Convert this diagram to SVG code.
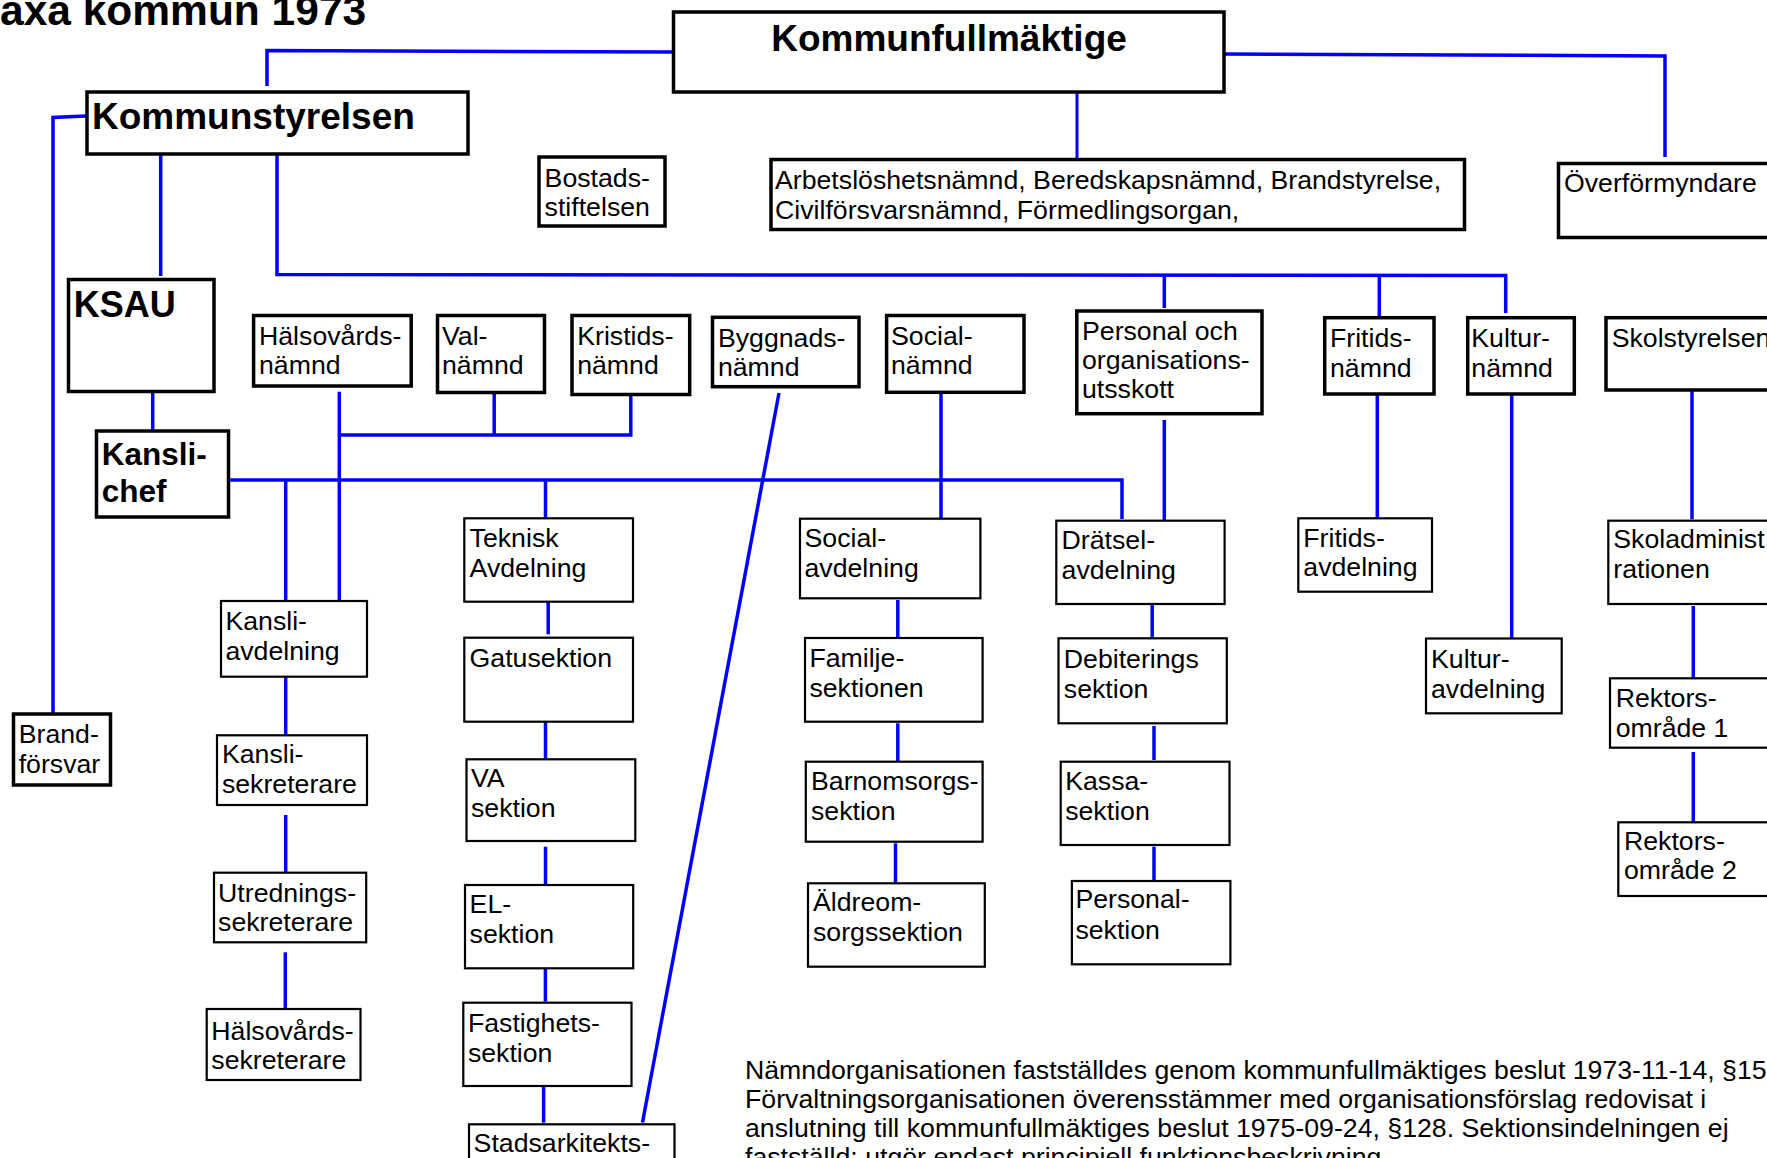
<svg xmlns="http://www.w3.org/2000/svg" width="1767" height="1158" viewBox="0 0 1767 1158">
<style>
.k{fill:#fff;stroke:#000;stroke-width:3.5}
.s{fill:#fff;stroke:#000;stroke-width:2.2}
.c{fill:none;stroke:#0000ff;stroke-width:3.5}
text{font-family:"Liberation Sans",Arial,sans-serif;fill:#000}
.n{font-size:26.7px}
.h{font-weight:bold}
</style>
<rect width="1767" height="1158" fill="#fff"/>
<text class="h" x="0" y="25" font-size="42.5">axa kommun 1973</text>
<g id="connectors">
<path class="c" d="M676 52 L267 50.5 L267 86"/>
<path class="c" d="M1225 54 L1665 56 L1665 157"/>
<path class="c" d="M1077 92 L1077 161" style="stroke-width:3"/>
<path class="c" d="M86 116 L53 117.5 L53 714"/>
<path class="c" d="M160.7 154 L160.7 276"/>
<path class="c" d="M277 154 L277 274.5 L1505.7 275.5 L1505.7 313"/>
<path class="c" d="M1164.3 275 L1164.3 308"/>
<path class="c" d="M1379.3 275 L1379.3 316"/>
<path class="c" d="M1164.3 420 L1164.3 521"/>
<path class="c" d="M152.7 391 L152.7 431"/>
<path class="c" d="M223 480 L1122 480 L1122 519"/>
<path class="c" d="M285.7 480 L285.7 601"/>
<path class="c" d="M545.5 480 L545.5 518"/>
<path class="c" d="M339.3 391.7 L339.3 600"/>
<path class="c" d="M339.3 435 L630.8 435 L630.8 395"/>
<path class="c" d="M494.2 392.7 L494.2 435"/>
<path class="c" d="M779 393 L642.5 1122.5"/>
<path class="c" d="M941 392 L941 520"/>
<path class="c" d="M1377.3 394 L1377.3 518.3"/>
<path class="c" d="M1511.7 394 L1511.7 641"/>
<path class="c" d="M1692 390 L1692 519.3"/>
<path class="c" d="M1693.3 606 L1693.3 678.3"/>
<path class="c" d="M1693.3 752 L1693.3 823.3"/>
<path class="c" d="M548.2 601.7 L548.2 634.3"/>
<path class="c" d="M545.5 719 L545.5 758.3"/>
<path class="c" d="M545.5 846.7 L545.5 886.7"/>
<path class="c" d="M545.4 968 L545.4 1001.7"/>
<path class="c" d="M543.6 1086 L543.6 1122.7"/>
<path class="c" d="M285.7 676.7 L285.7 735"/>
<path class="c" d="M285.7 815 L285.7 872.7"/>
<path class="c" d="M285.3 952.3 L285.3 1011"/>
<path class="c" d="M897.8 600 L897.8 637.7"/>
<path class="c" d="M897.8 723.3 L897.8 766.7"/>
<path class="c" d="M895.5 843.3 L895.5 886.7"/>
<path class="c" d="M1152.2 601.7 L1152.2 641.7"/>
<path class="c" d="M1154 726 L1154 760"/>
<path class="c" d="M1154 846.7 L1154 882.7"/>
</g>
<g id="kommunfullmaktige"><rect class="k" x="673.5" y="12" width="550.5" height="80"/><text class="h" x="949" y="51" font-size="37" text-anchor="middle">Kommunfullmäktige</text></g>
<g id="kommunstyrelsen"><rect class="k" x="87" y="92" width="381" height="62"/><text class="h" x="92" y="129.3" font-size="37">Kommunstyrelsen</text></g>
<g id="bostadsstiftelsen"><rect class="k" x="539" y="157" width="126" height="69"/><text class="n" x="544.6" y="186.7">Bostads-</text><text class="n" x="544.6" y="216">stiftelsen</text></g>
<g id="namnder"><rect class="k" x="771" y="159.5" width="693.5" height="70"/><text class="n" x="775" y="189">Arbetslöshetsnämnd, Beredskapsnämnd, Brandstyrelse,</text><text class="n" x="775" y="219">Civilförsvarsnämnd, Förmedlingsorgan,</text></g>
<g id="overformyndare"><rect class="k" x="1558.5" y="163.5" width="230" height="74"/><text class="n" x="1564" y="192">Överförmyndare</text></g>
<g id="ksau"><rect class="k" x="68.5" y="279.5" width="145.5" height="112"/><text class="h" x="73.7" y="317.3" font-size="36">KSAU</text></g>
<g id="kanslichef"><rect class="k" x="96.5" y="431" width="132" height="86"/><text class="h" x="101.8" y="464.5" font-size="31.5">Kansli-</text><text class="h" x="101.8" y="502" font-size="31.5">chef</text></g>
<g id="brandforsvar"><rect class="k" x="13.5" y="714" width="97" height="71"/><text class="n" x="18.7" y="743.3">Brand-</text><text class="n" x="18.7" y="773.3">försvar</text></g>
<g id="halsovardsnamnd"><rect class="k" x="253.6" y="315.5" width="157.6" height="70.5"/><text class="n" x="259" y="345">Hälsovårds-</text><text class="n" x="259" y="374">nämnd</text></g>
<g id="valnamnd"><rect class="k" x="437.5" y="315.5" width="107" height="77"/><text class="n" x="442" y="345">Val-</text><text class="n" x="442" y="374">nämnd</text></g>
<g id="kristidsnamnd"><rect class="k" x="572" y="315.5" width="117.7" height="79"/><text class="n" x="577.2" y="345">Kristids-</text><text class="n" x="577.2" y="374">nämnd</text></g>
<g id="byggnadsnamnd"><rect class="k" x="712.5" y="317.3" width="146.5" height="69.4"/><text class="n" x="717.9" y="346.7">Byggnads-</text><text class="n" x="717.9" y="375.5">nämnd</text></g>
<g id="socialnamnd"><rect class="k" x="886.6" y="315.5" width="137.4" height="76.8"/><text class="n" x="891" y="344.5">Social-</text><text class="n" x="891" y="374.3">nämnd</text></g>
<g id="personalutskott"><rect class="k" x="1076.8" y="311" width="185.2" height="102.7"/><text class="n" x="1082" y="340">Personal och</text><text class="n" x="1082" y="369">organisations-</text><text class="n" x="1082" y="398.3">utsskott</text></g>
<g id="fritidsnamnd"><rect class="k" x="1324.7" y="317.7" width="109.3" height="76.3"/><text class="n" x="1330" y="347.3">Fritids-</text><text class="n" x="1330" y="376.7">nämnd</text></g>
<g id="kulturnamnd"><rect class="k" x="1467.7" y="317.7" width="106.6" height="76.3"/><text class="n" x="1471.3" y="347.3">Kultur-</text><text class="n" x="1471.3" y="376.7">nämnd</text></g>
<g id="skolstyrelsen"><rect class="k" x="1606" y="317.7" width="190" height="72.3"/><text class="n" x="1611.7" y="347.3">Skolstyrelsen</text></g>
<g id="kansliavdelning"><rect class="s" x="221" y="601" width="146" height="75.7"/><text class="n" x="225.4" y="630">Kansli-</text><text class="n" x="225.4" y="660">avdelning</text></g>
<g id="kanslisekreterare"><rect class="s" x="217" y="735.3" width="150" height="69.7"/><text class="n" x="221.9" y="762.7">Kansli-</text><text class="n" x="221.9" y="793.3">sekreterare</text></g>
<g id="utredningssekreterare"><rect class="s" x="214" y="872.7" width="152.2" height="69.6"/><text class="n" x="218.1" y="901.7">Utrednings-</text><text class="n" x="218.1" y="931">sekreterare</text></g>
<g id="halsovardssekreterare"><rect class="s" x="206.7" y="1009" width="153.8" height="71"/><text class="n" x="211.3" y="1040">Hälsovårds-</text><text class="n" x="211.3" y="1069">sekreterare</text></g>
<g id="tekniskavdelning"><rect class="s" x="464.3" y="518.3" width="168.7" height="83.4"/><text class="n" x="469.6" y="546.5">Teknisk</text><text class="n" x="469.6" y="576.7">Avdelning</text></g>
<g id="gatusektion"><rect class="s" x="464.3" y="637.7" width="168.7" height="84"/><text class="n" x="469.6" y="666.7">Gatusektion</text></g>
<g id="vasektion"><rect class="s" x="466.5" y="759.3" width="168.8" height="81.7"/><text class="n" x="471" y="787.3">VA</text><text class="n" x="471" y="817.3">sektion</text></g>
<g id="elsektion"><rect class="s" x="465" y="885" width="168.2" height="83.3"/><text class="n" x="469.6" y="913.3">EL-</text><text class="n" x="469.6" y="943.3">sektion</text></g>
<g id="fastighetssektion"><rect class="s" x="463.3" y="1002.7" width="168.2" height="83.3"/><text class="n" x="467.9" y="1031.7">Fastighets-</text><text class="n" x="467.9" y="1061.7">sektion</text></g>
<g id="stadsarkitekt"><rect class="s" x="469" y="1124.3" width="205.5" height="60"/><text class="n" x="473.6" y="1151.7">Stadsarkitekts-</text></g>
<g id="socialavdelning"><rect class="s" x="800" y="518.7" width="180.4" height="79.6"/><text class="n" x="804.5" y="546.7">Social-</text><text class="n" x="804.5" y="576.7">avdelning</text></g>
<g id="familjesektionen"><rect class="s" x="805" y="638" width="177.6" height="83.7"/><text class="n" x="809.4" y="666.7">Familje-</text><text class="n" x="809.4" y="696.7">sektionen</text></g>
<g id="barnomsorgssektion"><rect class="s" x="805.8" y="761.7" width="176.8" height="80"/><text class="n" x="811" y="790">Barnomsorgs-</text><text class="n" x="811" y="820">sektion</text></g>
<g id="aldreomsorgssektion"><rect class="s" x="808" y="883.3" width="176.8" height="83.4"/><text class="n" x="813" y="910.5">Äldreom-</text><text class="n" x="813" y="940.7">sorgssektion</text></g>
<g id="dratselavdelning"><rect class="s" x="1056.3" y="520.7" width="168.3" height="83.3"/><text class="n" x="1061.6" y="549">Drätsel-</text><text class="n" x="1061.6" y="579">avdelning</text></g>
<g id="debiteringssektion"><rect class="s" x="1058.5" y="638.3" width="168.3" height="85"/><text class="n" x="1063.8" y="668.3">Debiterings</text><text class="n" x="1063.8" y="698.3">sektion</text></g>
<g id="kassasektion"><rect class="s" x="1060.7" y="761.7" width="168.8" height="83.3"/><text class="n" x="1065.2" y="790">Kassa-</text><text class="n" x="1065.2" y="820">sektion</text></g>
<g id="personalsektion"><rect class="s" x="1071.9" y="881" width="158.5" height="83.3"/><text class="n" x="1075.4" y="908.3">Personal-</text><text class="n" x="1075.4" y="939">sektion</text></g>
<g id="fritidsavdelning"><rect class="s" x="1298.3" y="518.3" width="133.7" height="73.4"/><text class="n" x="1303.3" y="546.7">Fritids-</text><text class="n" x="1303.3" y="575.5">avdelning</text></g>
<g id="kulturavdelning"><rect class="s" x="1426" y="638.5" width="135.7" height="74.8"/><text class="n" x="1431" y="668.3">Kultur-</text><text class="n" x="1431" y="698.3">avdelning</text></g>
<g id="skoladministrationen"><rect class="s" x="1608.3" y="520.7" width="190" height="83.3"/><text class="n" x="1613.3" y="548.3">Skoladminist</text><text class="n" x="1613.3" y="578.3">rationen</text></g>
<g id="rektorsomrade1"><rect class="s" x="1610" y="678.3" width="190" height="69.4"/><text class="n" x="1615.7" y="706.7">Rektors-</text><text class="n" x="1615.7" y="736.7">område 1</text></g>
<g id="rektorsomrade2"><rect class="s" x="1618.3" y="822.3" width="190" height="73.7"/><text class="n" x="1624" y="850">Rektors-</text><text class="n" x="1624" y="879.3">område 2</text></g>
<g id="note">
<text class="n" x="745" y="1079.3">Nämndorganisationen fastställdes genom kommunfullmäktiges beslut 1973-11-14, §15</text>
<text class="n" x="745" y="1108.3">Förvaltningsorganisationen överensstämmer med organisationsförslag redovisat i</text>
<text class="n" x="745" y="1137.3">anslutning till kommunfullmäktiges beslut 1975-09-24, §128. Sektionsindelningen ej</text>
<text class="n" x="745" y="1166.3">fastställd; utgör endast principiell funktionsbeskrivning</text>
</g>
</svg>
